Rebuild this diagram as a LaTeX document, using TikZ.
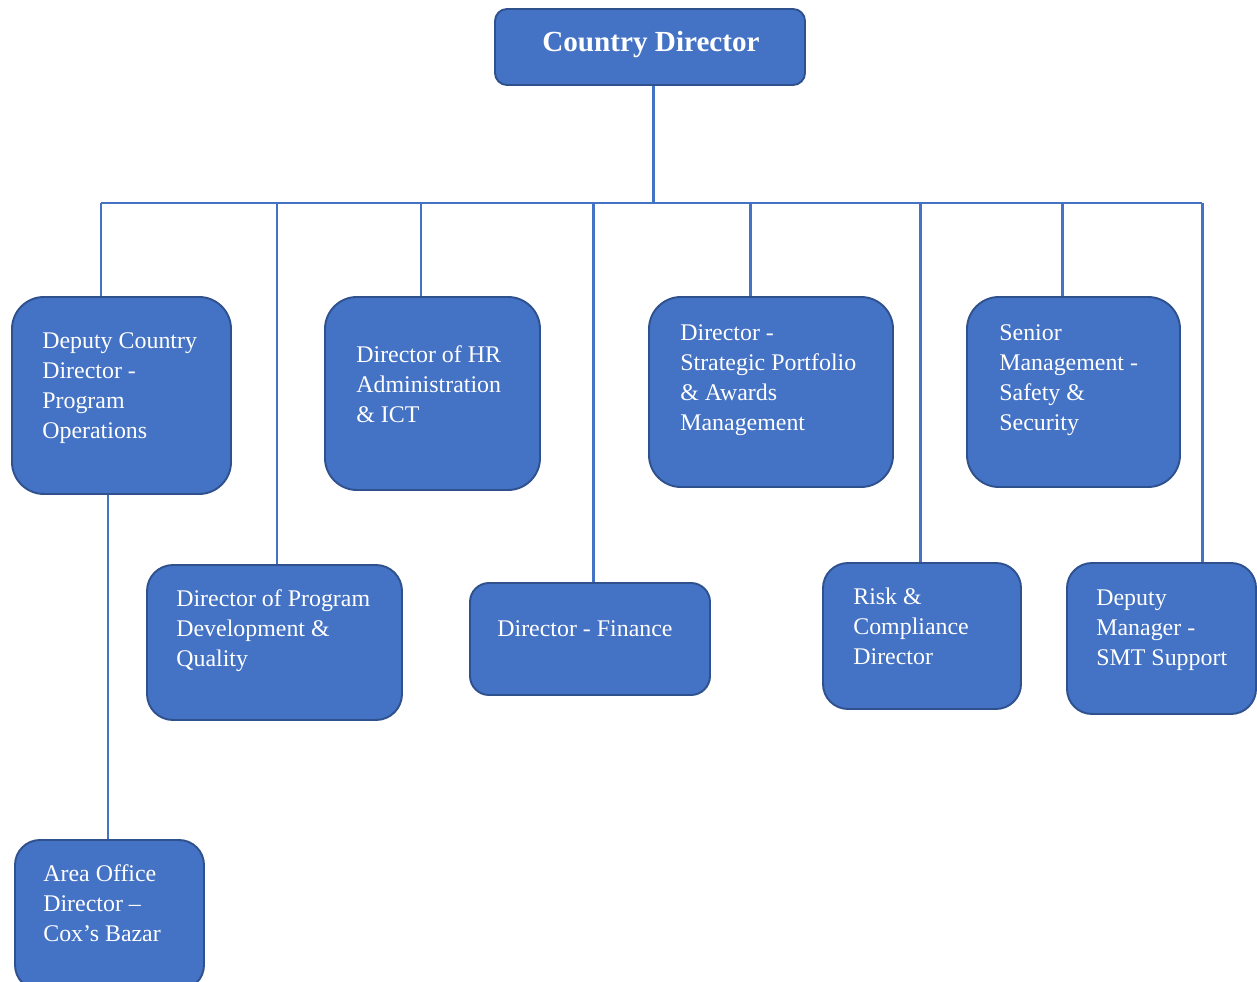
\documentclass[tikz,border=0pt]{standalone}
\usepackage{fontspec}
\setmainfont{Liberation Serif}
\usetikzlibrary{positioning}

\definecolor{boxblue}{RGB}{68,114,196}
\definecolor{boxedge}{RGB}{47,82,143}

\begin{document}
\begin{tikzpicture}[x=0.02cm, y=-0.02cm,
  unit/.style 2 args={draw=boxedge, line width=1.1pt, fill=boxblue,
    minimum width=#1*0.02cm, minimum height=#2*0.02cm, inner sep=0pt},
  txt/.style={text=white, align=left, inner sep=0pt, anchor=north west,
    font=\fontsize{13.6}{17.07}\selectfont},
  title/.style={text=white, inner sep=0pt, anchor=base,
    font=\fontsize{16.6}{20}\selectfont\bfseries},
  link/.style={draw=boxblue, line width=1.7pt}]

\useasboundingbox (0,0) rectangle (1257,982);

% boxes
\node[unit={310}{76}, rounded corners=12*0.02cm] (cd) at (650,47) {};
\node[unit={219}{197}, rounded corners=32*0.02cm] (dcd) at (121.5,395.5) {};
\node[unit={215}{193}, rounded corners=32*0.02cm] (hr) at (432.5,393.5) {};
\node[unit={244}{190}, rounded corners=32*0.02cm] (spa) at (771,392) {};
\node[unit={213}{190}, rounded corners=32*0.02cm] (smss) at (1073.5,392) {};
\node[unit={255}{155}, rounded corners=26*0.02cm] (pdq) at (274.5,642.5) {};
\node[unit={240}{112}, rounded corners=19*0.02cm] (fin) at (590,639) {};
\node[unit={198}{146}, rounded corners=25*0.02cm] (rcd) at (922,636) {};
\node[unit={189}{151}, rounded corners=25*0.02cm] (dms) at (1161.5,638.5) {};
\node[unit={189}{150}, rounded corners=25*0.02cm] (aod) at (109.5,915) {};

% texts
\node[title] (cd-t) at (651,52) {Country Director};
\node[txt] (dcd-t) at (42,332.5) {Deputy Country\\Director -\\Program\\Operations};
\node[txt] (hr-t) at (356,345.5) {Director of HR\\Administration\\\& ICT};
\node[txt] (spa-t) at (680,324.5) {Director -\\Strategic Portfolio\\\& Awards\\Management};
\node[txt] (smss-t) at (999,324.5) {Senior\\Management -\\Safety \&\\Security};
\node[txt] (pdq-t) at (176,589.5) {Director of Program\\Development \&\\Quality};
\node[txt] (fin-t) at (497,620.5) {Director - Finance};
\node[txt] (rcd-t) at (853,587.5) {Risk \&\\Compliance\\Director};
\node[txt] (dms-t) at (1096,589.5) {Deputy\\Manager -\\SMT Support};
\node[txt] (aod-t) at (43,864.5) {Area Office\\Director –\\Cox’s Bazar};

% bus
\coordinate (b0) at (653,203);
\coordinate (b1) at (101,203);
\coordinate (b2) at (277,203);
\coordinate (b3) at (421,203);
\coordinate (b4) at (593,203);
\coordinate (b5) at (750,203);
\coordinate (b6) at (920,203);
\coordinate (b7) at (1062,203);
\coordinate (b8) at (1202,203);

\draw[link] (cd.south -| b0) -- (b0);
\draw[link] (b1) -- (b8);
\draw[link] (b1) -- (b1 |- dcd.north);
\draw[link] (b2) -- (b2 |- pdq.north);
\draw[link] (b3) -- (b3 |- hr.north);
\draw[link] (b4) -- (b4 |- fin.north);
\draw[link] (b5) -- (b5 |- spa.north);
\draw[link] (b6) -- (b6 |- rcd.north);
\draw[link] (b7) -- (b7 |- smss.north);
\draw[link] (b8) -- (b8 |- dms.north);
\draw[link] ([xshift=-13.5*0.02cm]dcd.south) -- ([xshift=-1.5*0.02cm]aod.north);
\end{tikzpicture}
\end{document}
